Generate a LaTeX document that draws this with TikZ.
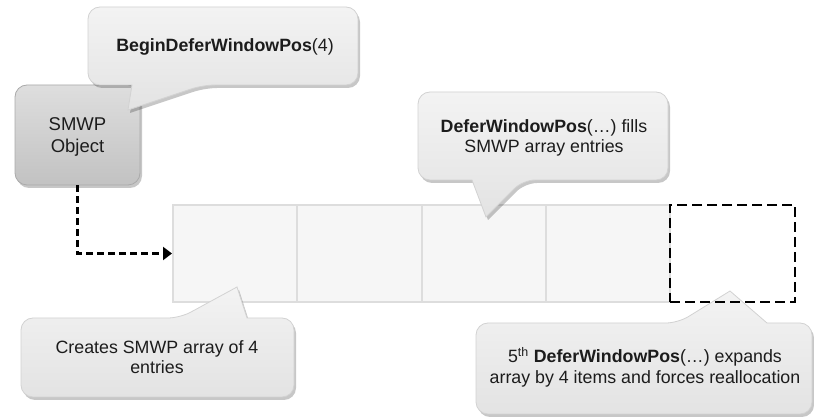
\documentclass[tikz,border=0pt]{standalone}
\usepackage{fontspec}
\setmainfont{Liberation Sans}
\usetikzlibrary{arrows.meta,shadows}
\definecolor{cotop}{HTML}{F3F3F3}
\definecolor{cobot}{HTML}{E3E3E3}
\definecolor{coline}{HTML}{D2D2D2}
\definecolor{obtop}{HTML}{DEDEDE}
\definecolor{obbot}{HTML}{C2C2C2}
\definecolor{obline}{HTML}{AAAAAA}
\definecolor{cellfill}{HTML}{F6F6F6}
\definecolor{cellline}{HTML}{DDDDDD}
\definecolor{txtcol}{HTML}{1C1C1C}
\begin{document}
\begin{tikzpicture}[x=1pt,y=1pt,
  softshadow/.style={drop shadow={shadow xshift=2pt,shadow yshift=-3pt,opacity=0.22,fill=black}},
  callout/.style={draw=coline,line width=0.8pt,top color=cotop,bottom color=cobot,softshadow},
  objbox/.style={rectangle,rounded corners=12pt,draw=obline,line width=0.8pt,top color=obtop,bottom color=obbot,softshadow,minimum width=125pt,minimum height=100pt,inner sep=0pt},
  cellbox/.style={rectangle,draw=cellline,fill=cellfill,line width=2pt,minimum width=124.25pt,minimum height=97pt,inner sep=0pt},
  newbox/.style={rectangle,draw=black,line width=2.8pt,dash pattern=on 10pt off 5pt,minimum width=125pt,minimum height=97pt,inner sep=0pt},
  link/.style={draw=black,line width=3.2pt,dash pattern=on 7pt off 4pt,-{Triangle[length=9pt,width=13pt]}},
  txt/.style={inner sep=0pt,anchor=base,font=\fontsize{17.8}{21}\selectfont,text=txtcol},
  objtxt/.style={txt,font=\fontsize{18.5}{22}\selectfont}]
\useasboundingbox (0,0) rectangle (814,-419);
\fill[white] (0,0) rectangle (814,-419);

% SMWP object
\node[objbox] (smwp) at (77.5,-135) {};

% array cells
\node[cellbox] (c1) at (235.125,-253.5) {};
\node[cellbox] (c2) at (359.375,-253.5) {};
\node[cellbox] (c3) at (483.625,-253.5) {};
\node[cellbox] (c4) at (607.875,-253.5) {};

% connector
\draw[link] (smwp.south) |- (c1.west);

% callout 1
\path[callout] (223,-7) [rounded corners=12pt] -- (358,-7) -- (358,-85) -- (203,-85)
  [sharp corners] -- (128,-110) -- (132,-85) [rounded corners=12pt] -- (88,-85) -- (88,-7) -- cycle;
% callout 2
\path[callout] (543,-92) [rounded corners=12pt] -- (668,-92) -- (668,-180) -- (523,-180)
  [sharp corners] -- (486,-217) -- (472,-180) [rounded corners=12pt] -- (418,-180) -- (418,-92) -- cycle;
% callout 3
\path[callout] (157,-397) [rounded corners=12pt] -- (21,-397) -- (21,-318) -- (180,-318)
  [sharp corners] -- (237,-287) -- (247,-318) [rounded corners=12pt] -- (294,-318) -- (294,-397) -- cycle;
% callout 4
\path[callout] (644,-414) [rounded corners=12pt] -- (476,-414) -- (476,-323) -- (678,-323)
  [sharp corners] -- (730,-291) -- (767,-323) [rounded corners=12pt] -- (812,-323) -- (812,-414) -- cycle;

% new (5th) slot
\node[newbox] (c5) at (732.5,-253.5) {};

% texts
\node[objtxt] (s1) at (77.5,-131) {SMWP};
\node[objtxt] (s2) at (77.5,-153) {Object};
\node[txt] (t1) at (225,-52) {\textbf{BeginDeferWindowPos}(4)};
\node[txt] (t2a) at (544,-133) {\textbf{DeferWindowPos}(…) fills};
\node[txt] (t2b) at (544,-153) {SMWP array entries};
\node[txt] (t3a) at (157,-354) {Creates SMWP array of 4};
\node[txt] (t3b) at (157,-374) {entries};
\node[txt] (t4a) at (645,-363) {5\textsuperscript{th} \textbf{DeferWindowPos}(…) expands};
\node[txt] (t4b) at (645,-384) {array by 4 items and forces reallocation};
\end{tikzpicture}
\end{document}
